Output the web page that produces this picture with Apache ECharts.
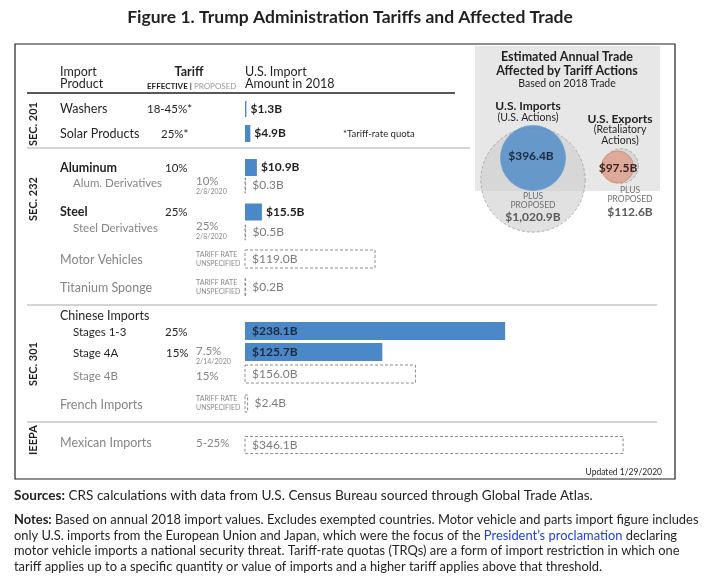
<!DOCTYPE html>
<html><head><meta charset="utf-8">
<script src="https://cdn.jsdelivr.net/npm/echarts@6/dist/echarts.min.js"></script>
<style>html,body{margin:0;padding:0;background:#fff}#c{width:707px;height:580px}</style>
</head><body><div id="c"></div>
<script>
// ---------- DATA ----------
const products = ['Washers','Solar Products','Aluminum','Alum. Derivatives','Steel','Steel Derivatives','Motor Vehicles','Titanium Sponge','Stages 1-3','Stage 4A','Stage 4B','French Imports','Mexican Imports'];
const importValues = [1.3, 4.9, 10.9, 0.3, 15.5, 0.5, 119.0, 0.2, 238.1, 125.7, 156.0, 2.4, 346.1];
const inEffect = [true, true, true, false, true, false, false, false, true, true, false, false, false];
const effectiveTariff = ['18-45%*','25%*','10%','','25%','','','','25%','15%','','',''];
const proposedTariff = ['','','','10%','','25%','TARIFF RATE|UNSPECIFIED','TARIFF RATE|UNSPECIFIED','','7.5%','15%','TARIFF RATE|UNSPECIFIED','5-25%'];
const proposedDate = ['','','','2/8/2020','','2/8/2020','','','','2/14/2020','','',''];
const groupLabels = ['Chinese Imports'];
const sections = ['SEC. 201','SEC. 232','SEC. 301','IEEPA'];
const bubbleNames = ['U.S. Imports plus proposed','U.S. Imports','U.S. Exports plus proposed','U.S. Exports'];
const bubbleValues = [1020.9, 396.4, 112.6, 97.5];

// ---------- LAYOUT / STYLE ----------
const FONT = 'Lato, "Open Sans", sans-serif';
const DARK = '#231f20', GRAY = '#858585', BLUE = '#4a88c7', RED = '#df9f8a';
const labelStyle = ['d','d','b','g2','b','g2','g','g','d2','d2','g2','g','g'];
const labelX = [60,60,60,73,60,73,60,60,73,73,73,60,60];
const labelY = [109,134,168,183,212,228,260,288,332,353,376,405,443];
const barY = [109,133.5,167.5,185.5,212,232.5,259,287.5,331,352,374,403.5,445];
const barH = [16,17,17,15,17,15,18,18,18,18,18,17,17];
const effX = [147,161,165,0,165,0,0,0,165,166,0,0,0];
const propX = 196;
const propY = [0,0,0,181,0,226,0,0,0,351,376,0,443];
const groupPos = [[60,316]];
const sectionPos = [[33,124],[33,199],[33,364],[33,440]];
const bubbleCenters = [[533,180],[533,158],[621,166],[617.5,167]];
const bubbleK = 1.632;

const fmt = v => '$' + v.toLocaleString('en-US',{minimumFractionDigits:1, maximumFractionDigits:1}) + 'B';

const g = [];
function txt(x,y,text,opt){
  opt = opt || {};
  g.push({type:'text', x:x, y:y, z:20, rotation: opt.rot||0,
    style:{text:text, x:0, y:0, fill:opt.fill||DARK, textAlign:opt.align||'left', textVerticalAlign:'middle', verticalAlign:'middle',
      font:(opt.weight||'normal')+' '+(opt.size||12)+'px '+FONT, rich:opt.rich}});
}
function line(x1,y1,x2,y2,color,w){
  g.push({type:'line', z:5, shape:{x1:x1,y1:y1,x2:x2,y2:y2}, style:{stroke:color,lineWidth:w}});
}

// title & frame
txt(350,17,'Figure 1. Trump Administration Tariffs and Affected Trade',{align:'center',weight:'bold',size:17.5});
g.push({type:'rect', z:1, shape:{x:15,y:44,width:660,height:435}, style:{fill:'none',stroke:DARK,lineWidth:1.2}});
// bubble panel background
g.push({type:'rect', z:0, shape:{x:475,y:46,width:185,height:145}, style:{fill:'#e7e7e7'}});

// header
txt(60,72,'Import',{size:12.5});
txt(60,84,'Product',{size:12.5});
txt(189,72,'Tariff',{align:'center',weight:'bold',size:12.5});
txt(147,86,'{a|EFFECTIVE} {a||} {b|PROPOSED}',{size:8, rich:{a:{fill:DARK,font:'bold 8px '+FONT},b:{fill:'#999',font:'8px '+FONT}}});
txt(245,72,'U.S. Import',{size:12.5});
txt(245,84,'Amount in 2018',{size:12.5});
line(27,93,455,93,DARK,1.5);
line(27,148,470,148,'#c6c6c6',1.5);
line(27,305,657,305,'#c6c6c6',1.5);
line(27,422,657,422,'#c6c6c6',1.5);

// sections
sections.forEach((s,i)=>txt(sectionPos[i][0],sectionPos[i][1],s,{align:'center',weight:'bold',size:11,rot:Math.PI/2}));
groupLabels.forEach((s,i)=>txt(groupPos[i][0],groupPos[i][1],s,{size:12.5}));

// row labels & tariffs
products.forEach((p,i)=>{
  const st = labelStyle[i];
  const gray = st[0]==='g';
  const size = st.length>1 ? 11.5 : 12.5;
  txt(labelX[i],labelY[i],p,{size:size,fill:gray?GRAY:DARK,weight:st==='b'?'bold':'normal'});
  if(effectiveTariff[i]) txt(effX[i],labelY[i],effectiveTariff[i],{size:11.5});
  const pt = proposedTariff[i];
  if(pt){
    if(pt.indexOf('|')>=0){
      const parts = pt.split('|');
      txt(propX, barY[i]-4.5, parts[0], {size:7,fill:'#8a8a8a'});
      txt(propX, barY[i]+4.5, parts[1], {size:7,fill:'#8a8a8a'});
    } else {
      txt(propX, propY[i], pt, {size:11.5, fill:GRAY});
    }
  }
  if(proposedDate[i]) txt(propX, propY[i]+10.5, proposedDate[i], {size:7, fill:'#8a8a8a'});
});
txt(343,134,'*Tariff-rate quota',{size:9.5});
txt(662,472,'Updated 1/29/2020',{align:'right',size:8.5});

// bubble panel texts
txt(567,57,'Estimated Annual Trade',{align:'center',weight:'bold',size:12.5});
txt(567,71,'Affected by Tariff Actions',{align:'center',weight:'bold',size:12.5});
txt(567,84,'Based on 2018 Trade',{align:'center',size:10.5});
txt(528,106,'U.S. Imports',{align:'center',weight:'bold',size:12});
txt(528,118,'(U.S. Actions)',{align:'center',size:10.5});
txt(620,119,'U.S. Exports',{align:'center',weight:'bold',size:12});
txt(620,130,'(Retaliatory',{align:'center',size:10.5});
txt(620,141,'Actions)',{align:'center',size:10.5});
txt(531,156,fmt(bubbleValues[1]),{align:'center',weight:'bold',size:12,fill:'#1c2a3f'});
txt(533,196,'PLUS',{align:'center',size:8.5,fill:'#6f6f6f'});
txt(533,205,'PROPOSED',{align:'center',size:8.5,fill:'#6f6f6f'});
txt(533,217,fmt(bubbleValues[0]),{align:'center',weight:'bold',size:12,fill:'#5a5a5a'});
txt(618,168,fmt(bubbleValues[3]),{align:'center',weight:'bold',size:12,fill:'#3a2320'});
txt(630,190,'PLUS',{align:'center',size:8.5,fill:'#6f6f6f'});
txt(630,199,'PROPOSED',{align:'center',size:8.5,fill:'#6f6f6f'});
txt(630,212,fmt(bubbleValues[2]),{align:'center',weight:'bold',size:12,fill:'#5a5a5a'});

// footer
const FS = 12.9, SS = 13.6;
const fr = {b:{font:'bold '+FS+'px '+FONT, fill:DARK}, n:{font:FS+'px '+FONT, fill:DARK}, l:{font:FS+'px '+FONT, fill:'#1f3fd6'}};
const sr = {b:{font:'bold '+SS+'px '+FONT, fill:DARK}, n:{font:SS+'px '+FONT, fill:DARK}};
txt(14,496,'{b|Sources:}{n| CRS calculations with data from U.S. Census Bureau sourced through Global Trade Atlas.}',{rich:sr,size:SS});
txt(14,520,'{b|Notes:}{n| Based on annual 2018 import values. Excludes exempted countries. Motor vehicle and parts import figure includes}',{rich:fr,size:FS});
txt(14,536,'{n|only U.S. imports from the European Union and Japan, which were the focus of the }{l|President\u2019s proclamation}{n| declaring}',{rich:fr,size:FS});
txt(14,551,'{n|motor vehicle imports a national security threat. Tariff-rate quotas (TRQs) are a form of import restriction in which one}',{rich:fr,size:FS});
txt(14,567,'{n|tariff applies up to a specific quantity or value of imports and a higher tariff applies above that threshold.}',{rich:fr,size:FS});

const chart = echarts.init(document.getElementById('c'));
chart.setOption({
  animation:false,
  grid:[{left:245, top:0, width:437, height:580},{left:0, top:0, width:707, height:580}],
  xAxis:[{type:'value', min:0, max:400, show:false, gridIndex:0},{type:'value', min:0, max:707, show:false, gridIndex:1}],
  yAxis:[{type:'value', min:0, max:580, inverse:true, show:false, gridIndex:0},{type:'value', min:0, max:580, inverse:true, show:false, gridIndex:1}],
  graphic:{elements:g},
  series:[
    {type:'custom', xAxisIndex:0, yAxisIndex:0, z:10,
     data: importValues.map((v,i)=>[v, barY[i], barH[i]]),
     renderItem:function(params, api){
       const i = params.dataIndex;
       const v = api.value(0), yv = api.value(1), h = api.value(2);
       const p0 = api.coord([0,yv]), p1 = api.coord([v,yv]);
       const w = Math.max(p1[0]-p0[0], 0.6);
       const solid = inEffect[i];
       const rect = {type:'rect', shape:{x:p0[0], y:p0[1]-h/2, width:w, height:h},
         style: solid ? {fill:BLUE} : {fill:'none', stroke:'#8c8c8c', lineWidth:1, lineDash:[3,2]}};
       const inside = w > 60;
       const t = {type:'text', style:{text:fmt(v), x: inside ? p0[0]+7 : p1[0]+(solid?4:7), y:p0[1],
         verticalAlign:'middle', textVerticalAlign:'middle',
         fill: solid ? (inside?'#1c2a3f':DARK) : '#7b7b7b', font:(solid?'bold ':'')+'12px '+FONT}};
       return {type:'group', children:[rect, t]};
     }},
    {type:'scatter', xAxisIndex:1, yAxisIndex:1, z:3, silent:true,
     symbolSize:function(val){ return 2*bubbleK*Math.sqrt(val[2]); },
     data: bubbleValues.map((v,i)=>{
       const isProp = bubbleNames[i].indexOf('proposed')>=0;
       const isExp = bubbleNames[i].indexOf('Exports')>=0;
       return {name:bubbleNames[i], value:[bubbleCenters[i][0], bubbleCenters[i][1], v],
         itemStyle: isProp ? {color:'rgba(205,205,205,0.75)', borderColor:'#a0a0a0', borderWidth:1, borderType:[3,2]}
                           : {color: isExp ? RED : BLUE, borderColor: isExp ? '#c98a77' : '#6a9fd3', borderWidth:1}};
     })}
  ]
});
</script>
</body></html>
